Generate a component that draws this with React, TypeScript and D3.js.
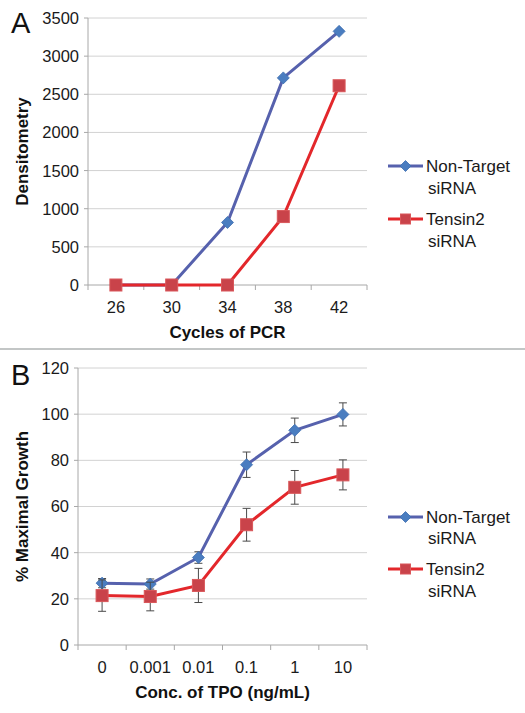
import React from "react";
import * as d3 from "d3";

// Panel A data
const cyclesA = ["26", "30", "34", "38", "42"];
const nonTargetA = [0, 0, 820, 2715, 3325];
const tensinA = [0, 0, 0, 897, 2612];
const yTicksA = [0, 500, 1000, 1500, 2000, 2500, 3000, 3500];

// Panel B data
const concB = ["0", "0.001", "0.01", "0.1", "1", "10"];
const nonTargetB = [26.8, 26.4, 37.9, 78.1, 93.0, 99.9];
const nonTargetErrB = [2.0, 2.2, 2.5, 5.5, 5.3, 5.0];
const tensinB = [21.4, 21.0, 25.8, 52.1, 68.3, 73.7];
const tensinErrB = [6.8, 6.2, 7.4, 7.1, 7.3, 6.5];
const yTicksB = [0, 20, 40, 60, 80, 100, 120];

const seriesNames = ["Non-Target", "Tensin2"];

const FONT = "'Liberation Sans', Arial, sans-serif";
const BLUE_LINE = "#5661ad";
const BLUE_MARK = "#4a7dc0";
const RED_LINE = "#e3272b";
const RED_MARK = "#c9434a";
const GRID = "#d2d2d2";
const AXIS = "#a8a8a8";

type PanelProps = {
  letter: string;
  cats: string[];
  s1: number[];
  s2: number[];
  e1?: number[];
  e2?: number[];
  yTicks: number[];
  left: number;
  right: number;
  top: number;
  bottom: number;
  yTitle: string;
  xTitle: string;
  letterY: number;
  legendY: number[];
  legendBase: number[][];
};

function Diamond({ x, y, r }: { x: number; y: number; r: number }) {
  return (
    <path
      d={`M${x},${y - r}L${x + r},${y}L${x},${y + r}L${x - r},${y}Z`}
      fill={BLUE_MARK}
      stroke="#3d6fb0"
      strokeWidth={0.8}
    />
  );
}

function Square({ x, y, s }: { x: number; y: number; s: number }) {
  return (
    <rect
      x={x - s / 2}
      y={y - s / 2}
      width={s}
      height={s}
      fill={RED_MARK}
      stroke="#d9575a"
      strokeWidth={1}
    />
  );
}

function Panel(p: PanelProps) {
  const x = d3.scaleBand<string>().domain(p.cats).range([p.left, p.right]);
  const yMax = p.yTicks[p.yTicks.length - 1];
  const y = d3.scaleLinear().domain([0, yMax]).range([p.bottom, p.top]);
  const cx = (c: string) => (x(c) as number) + x.bandwidth() / 2;
  const line = d3
    .line<number>()
    .x((_, i) => cx(p.cats[i]))
    .y((d) => y(d));
  const boundaries = p.cats.map((c) => x(c) as number).concat([p.right]);
  const errBars = (vals: number[], errs?: number[]) =>
    errs
      ? vals.map((v, i) => {
          const xc = cx(p.cats[i]);
          const y1 = y(v + errs[i]);
          const y2 = y(v - errs[i]);
          return (
            <g key={i} stroke="#4a4a4a" strokeWidth={1}>
              <line x1={xc} x2={xc} y1={y1} y2={y2} />
              <line x1={xc - 4} x2={xc + 4} y1={y1} y2={y1} />
              <line x1={xc - 4} x2={xc + 4} y1={y2} y2={y2} />
            </g>
          );
        })
      : null;
  const midX = (p.left + p.right) / 2;
  const midY = (p.top + p.bottom) / 2;
  const legX0 = 388;
  const legX1 = 423;
  return (
    <g fontFamily={FONT}>
      <text x={11} y={p.letterY} fontSize={29} fill="#111">
        {p.letter}
      </text>
      {p.yTicks.map((t) => (
        <g key={t}>
          {t > 0 && (
            <line x1={p.left} x2={p.right} y1={y(t)} y2={y(t)} stroke={GRID} strokeWidth={1} />
          )}
          <line x1={p.left - 4} x2={p.left} y1={y(t)} y2={y(t)} stroke={AXIS} strokeWidth={1} />
          <text
            x={p.left - 9}
            y={y(t)}
            dy="0.36em"
            textAnchor="end"
            fontSize={16.5}
            fill="#1a1a1a"
          >
            {t}
          </text>
        </g>
      ))}
      <line x1={p.left} x2={p.left} y1={p.top} y2={p.bottom} stroke={AXIS} strokeWidth={1} />
      <line x1={p.left} x2={p.right} y1={p.bottom} y2={p.bottom} stroke={AXIS} strokeWidth={1} />
      {boundaries.map((b, i) => (
        <line key={i} x1={b} x2={b} y1={p.bottom} y2={p.bottom + 5} stroke={AXIS} strokeWidth={1} />
      ))}
      {p.cats.map((c) => (
        <text key={c} x={cx(c)} y={p.bottom + 22} dy="0.36em" textAnchor="middle" fontSize={16.5} fill="#1a1a1a">
          {c}
        </text>
      ))}
      <text x={midX} y={p.bottom + 47} dy="0.36em" textAnchor="middle" fontSize={17} fontWeight="bold" fill="#111">
        {p.xTitle}
      </text>
      <text
        transform={`translate(22,${midY}) rotate(-90)`}
        dy="0.36em"
        textAnchor="middle"
        fontSize={17}
        fontWeight="bold"
        fill="#111"
      >
        {p.yTitle}
      </text>
      {errBars(p.s1, p.e1)}
      <path d={line(p.s1) as string} fill="none" stroke={BLUE_LINE} strokeWidth={3} />
      {p.s1.map((v, i) => (
        <Diamond key={i} x={cx(p.cats[i])} y={y(v)} r={6} />
      ))}
      {errBars(p.s2, p.e2)}
      <path d={line(p.s2) as string} fill="none" stroke={RED_LINE} strokeWidth={3} />
      {p.s2.map((v, i) => (
        <Square key={i} x={cx(p.cats[i])} y={y(v)} s={12} />
      ))}
      {/* legend */}
      <line x1={legX0} x2={legX1} y1={p.legendY[0]} y2={p.legendY[0]} stroke={BLUE_LINE} strokeWidth={3} />
      <Diamond x={(legX0 + legX1) / 2} y={p.legendY[0]} r={5.5} />
      <line x1={legX0} x2={legX1} y1={p.legendY[1]} y2={p.legendY[1]} stroke={RED_LINE} strokeWidth={3} />
      <Square x={(legX0 + legX1) / 2} y={p.legendY[1]} s={10} />
      {seriesNames.map((n, i) => (
        <g key={n}>
          <text x={426} y={p.legendBase[i][0]} fontSize={17} fill="#1a1a1a">
            {n}
          </text>
          <text x={428} y={p.legendBase[i][1]} fontSize={17} fill="#1a1a1a">
            siRNA
          </text>
        </g>
      ))}
    </g>
  );
}

export default function App() {
  return (
    <svg
      width={525}
      height={713}
      style={{ position: "absolute", left: 0, top: 0, background: "#fff" }}
    >
      <rect width={525} height={713} fill="#fff" />
      <Panel
        letter="A"
        cats={cyclesA}
        s1={nonTargetA}
        s2={tensinA}
        yTicks={yTicksA}
        left={88}
        right={367}
        top={18}
        bottom={285}
        yTitle="Densitometry"
        xTitle="Cycles of PCR"
        letterY={33}
        legendY={[166, 219]}
        legendBase={[
          [171.5, 193.5],
          [225, 246.5],
        ]}
      />
      <line x1={0} x2={525} y1={349} y2={349} stroke="#c3c6c6" strokeWidth={2} />
      <Panel
        letter="B"
        cats={concB}
        s1={nonTargetB}
        s2={tensinB}
        e1={nonTargetErrB}
        e2={tensinErrB}
        yTicks={yTicksB}
        left={78}
        right={367}
        top={368}
        bottom={645}
        yTitle="% Maximal Growth"
        xTitle="Conc. of TPO (ng/mL)"
        letterY={385}
        legendY={[517, 569]}
        legendBase={[
          [522.5, 544],
          [575, 596.5],
        ]}
      />
    </svg>
  );
}
